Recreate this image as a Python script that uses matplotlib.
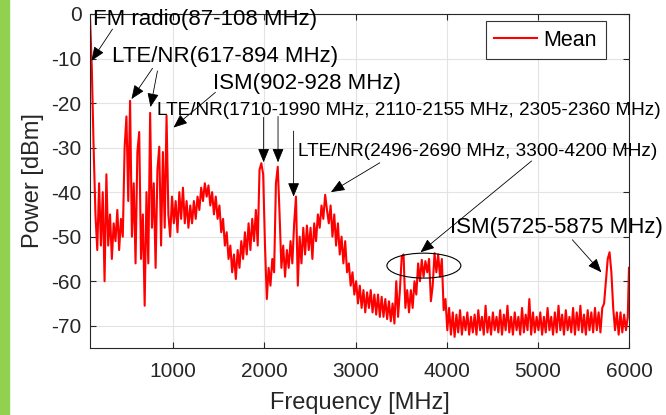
import numpy as np
import matplotlib
matplotlib.use('Agg')
import matplotlib.pyplot as plt
from matplotlib.patches import Ellipse, Rectangle

plt.rcParams['font.family'] = ['Liberation Sans', 'DejaVu Sans']
plt.rcParams['axes.unicode_minus'] = False

# mean spectrum, sampled every 20 MHz from 87 MHz, last point at 6000 MHz
freq = np.append(np.arange(87, 6000, 20), 6000)

p_fm_lte = [-0.5, -12, -30, -45, -53, -38, -52, -40, -60, -36,
            -52, -45, -55, -47, -51, -44, -53, -46, -50, -30,
            -23, -42, -19.5, -50, -38, -56, -31, -26.5, -55, -45,
            -65.5, -40, -56, -22.2, -48, -38, -57, -35, -29.8, -52,
            -31, -48, -22.8, -45, -50, -41, -47, -42, -49, -40]
p_1g_2g = [-46, -39, -47, -42, -48, -43, -47, -42, -46, -41,
           -44, -39, -42, -38, -41, -38.5, -43, -40, -45, -41,
           -46, -43, -49, -46, -52, -49, -55, -52, -58, -54,
           -59.5, -53, -57, -51, -55, -49, -54, -47, -53, -46,
           -51, -44, -52, -35, -33.5, -36, -52]
p_2g_3g = [-64, -57, -61, -55, -58, -38, -34.3, -45, -57, -52,
           -59, -53, -57, -51, -56, -47, -41, -61, -50, -56,
           -48, -54, -47.5, -53, -48, -55, -47, -51, -45, -48,
           -43, -46, -40.6, -44, -47, -43, -50, -45, -52, -47,
           -54, -50, -56, -51, -58, -56, -61, -58, -63]
p_3g_4g = [-60, -65, -61, -66, -62, -67, -62.5, -66, -62, -67,
           -63, -67.5, -63, -68, -63.5, -68, -64, -68.5, -64.5, -69,
           -65, -69.5, -60, -68, -62, -54.5, -54, -66, -62, -67,
           -62, -66, -60, -63, -56, -60, -55.2, -59, -55.5, -58,
           -55, -64.5, -61, -53.7, -58, -54, -59, -55, -66.5]
p_4g_5g = [-64, -71, -66, -72, -67, -72.5, -67.5, -71.5, -66.5, -72,
           -68, -71, -67, -72, -68, -71.5, -67.5, -72, -66.5, -71,
           -68, -72, -65.5, -71.5, -68, -72, -67, -71, -68, -71.5,
           -66.5, -72, -67.5, -71, -65.5, -71.5, -68, -72, -67, -71,
           -68, -72, -66, -71.5, -67.5, -71, -64, -72, -67, -71.5,
           -68]
p_5g_6g = [-71, -67, -72, -68, -71.5, -66, -71, -68, -72, -67,
           -71.5, -65.5, -71, -67.5, -72, -66.5, -71, -68, -71.5, -66,
           -72, -67, -71, -65.5, -71.5, -67.5, -72, -66.5, -71, -67,
           -71.5, -66, -71, -67, -71.5, -66, -65, -60, -55, -53.5,
           -58, -66, -71, -67, -72, -67, -71.5, -67.5, -71, -68,
           -57]
power = np.array(p_fm_lte + p_1g_2g + p_2g_3g + p_3g_4g + p_4g_5g + p_5g_6g)

fig = plt.figure(figsize=(6.66, 4.15), dpi=100)
fig.patches.append(Rectangle((0, 0), 9 / 666, 1, transform=fig.transFigure,
                             color='#92d050', zorder=0))
ax = fig.add_axes([0.1351, 0.1614, 0.8093, 0.8049])

ax.plot(freq, power, color='red', linewidth=1.5, label='Mean')

ax.set_xlim(87, 6000)
ax.set_ylim(-75, 0)
ax.set_xticks([1000, 2000, 3000, 4000, 5000, 6000])
ax.set_yticks([-70, -60, -50, -40, -30, -20, -10, 0])
ax.grid(True, color='#e3e3e3', linewidth=0.8)
ax.set_axisbelow(True)
ax.tick_params(direction='in', top=True, right=True, length=4, width=0.8,
               colors='#262626', labelsize=15)
ax.tick_params(axis='x', pad=10)
ax.tick_params(axis='y', pad=6)
for s in ax.spines.values():
    s.set_color('#262626')
    s.set_linewidth(0.8)

ax.set_xlabel('Frequency [MHz]', fontsize=17, color='#262626', labelpad=8)
ax.set_ylabel('Power [dBm]', fontsize=17, color='#262626', labelpad=5)

leg = ax.legend(loc='upper right', bbox_to_anchor=(0.957, 0.979), borderaxespad=0,
                fontsize=15.5, fancybox=False, framealpha=1, edgecolor='#333333',
                handlelength=2.0, handletextpad=0.3, borderpad=0.4)
leg.get_frame().set_linewidth(0.8)

# band labels
labels = [
    ('FM radio(87-108 MHz)', 115, -2.5, 16),
    ('LTE/NR(617-894 MHz)', 334, -10.8, 16),
    ('ISM(902-928 MHz)', 1441, -16.9, 16),
    ('LTE/NR(1710-1990 MHz, 2110-2155 MHz, 2305-2360 MHz)', 827, -22.7, 13.7),
    ('LTE/NR(2496-2690 MHz, 3300-4200 MHz)', 2373, -31.8, 13.7),
    ('ISM(5725-5875 MHz)', 4038, -49.1, 16),
]
for txt, x, y, fs in labels:
    ax.text(x, y, txt, fontsize=fs, va='baseline', ha='left', color='black',
            zorder=5, clip_on=False)

# arrows: (tail, tip)
arrows = [
    ((334, -3.4), (104, -10.5)),
    ((773, -12.2), (542, -19.1)),
    ((827, -12.8), (751, -20.9)),
    ((1463, -17.6), (1003, -25.5)),
    ((1992, -23.2), (1992, -33.3)),
    ((2150, -23.0), (2150, -33.3)),
    ((2321, -26.3), (2321, -41.0)),
    ((3267, -33.4), (2730, -40.0)),
    ((4932, -33.0), (3713, -53.5)),
    ((5379, -50.7), (5697, -58.0)),
]
for tail, tip in arrows:
    ax.annotate('', xy=tip, xytext=tail,
                arrowprops=dict(arrowstyle='-|>,head_length=0.85,head_width=0.35',
                                color='black', lw=0.6, shrinkA=0, shrinkB=0))

ax.add_patch(Ellipse((3750, -56.5), 811, 5.6, fill=False, edgecolor='black',
                     linewidth=0.8, zorder=4))

plt.savefig('out.png', dpi=100)
